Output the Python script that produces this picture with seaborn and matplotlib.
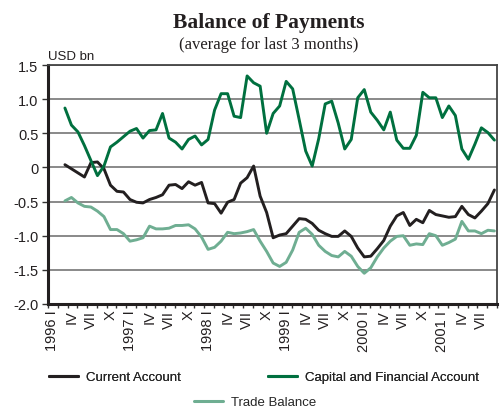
import matplotlib
matplotlib.use("Agg")
import matplotlib.pyplot as plt
from matplotlib import font_manager
from matplotlib.lines import Line2D
from matplotlib.ticker import FixedLocator, FuncFormatter
import numpy as np
import pandas as pd
import seaborn as sns

# months counted from January 1996 (0); data runs March 1996 .. September 2001
months = list(range(2, 69))

current_account = [
    0.04, -0.02, -0.08, -0.14, 0.07, 0.08, -0.02, -0.26, -0.35, -0.36,
    -0.47, -0.51, -0.52, -0.47, -0.44, -0.40, -0.26, -0.25, -0.31, -0.21,
    -0.26, -0.22, -0.52, -0.53, -0.67, -0.51, -0.47, -0.23, -0.15, 0.02,
    -0.42, -0.66, -1.03, -0.99, -0.97, -0.86, -0.75, -0.76, -0.82, -0.92,
    -0.97, -1.01, -1.01, -0.93, -1.01, -1.18, -1.31, -1.30, -1.19, -1.07,
    -0.86, -0.71, -0.66, -0.85, -0.76, -0.81, -0.63, -0.69, -0.71, -0.73,
    -0.72, -0.57, -0.69, -0.74, -0.64, -0.53, -0.33,
]

capital_account = [
    0.87, 0.62, 0.52, 0.32, 0.10, -0.12, 0.02, 0.30, 0.37, 0.45,
    0.53, 0.57, 0.43, 0.54, 0.55, 0.79, 0.43, 0.37, 0.27, 0.41,
    0.46, 0.33, 0.41, 0.84, 1.08, 1.08, 0.75, 0.73, 1.34, 1.24,
    1.19, 0.50, 0.79, 0.90, 1.26, 1.15, 0.70, 0.24, 0.02, 0.42,
    0.93, 0.97, 0.65, 0.27, 0.41, 1.02, 1.14, 0.81, 0.69, 0.55,
    0.81, 0.40, 0.28, 0.28, 0.47, 1.10, 1.02, 1.02, 0.73, 0.90,
    0.76, 0.27, 0.12, 0.34, 0.58, 0.51, 0.40,
]

trade_balance = [
    -0.49, -0.44, -0.52, -0.57, -0.58, -0.64, -0.72, -0.91, -0.91, -0.97,
    -1.08, -1.06, -1.03, -0.86, -0.90, -0.90, -0.89, -0.85, -0.85, -0.84,
    -0.90, -1.02, -1.20, -1.17, -1.08, -0.95, -0.97, -0.96, -0.94, -0.91,
    -1.08, -1.23, -1.40, -1.45, -1.39, -1.21, -0.95, -0.89, -0.98, -1.14,
    -1.23, -1.29, -1.31, -1.23, -1.30, -1.45, -1.55, -1.47, -1.31, -1.18,
    -1.08, -1.01, -1.00, -1.14, -1.12, -1.13, -0.97, -1.00, -1.14, -1.10,
    -1.05, -0.79, -0.93, -0.93, -0.97, -0.92, -0.93,
]

series_names = ["Current Account", "Capital and Financial Account", "Trade Balance"]
series_colors = ["#231f20", "#00703f", "#6fae92"]

quarter_labels = []
for year in range(1996, 2002):
    quarter_labels += [f"{year} I", "IV", "VII", "X"]
quarter_labels = quarter_labels[:23]
quarter_pos = list(range(0, 69, 3))

y_ticks = [1.5, 1.0, 0.5, 0, -0.5, -1.0, -1.5, -2.0]

df = pd.DataFrame({
    "month": months * 3,
    "value": current_account + capital_account + trade_balance,
    "series": [series_names[0]] * len(months)
    + [series_names[1]] * len(months)
    + [series_names[2]] * len(months),
})

sns.set_theme(style="white")
names = {f.name for f in font_manager.fontManager.ttflist}
if "Liberation Sans Narrow" in names:
    sans, fs, tfs = "Liberation Sans Narrow", 11.5, 12
else:
    sans, fs, tfs = "Liberation Sans", 9.5, 10.5
plt.rcParams["font.family"] = [sans, "DejaVu Sans"]

fig = plt.figure(figsize=(5.04, 4.14), dpi=100)
ax = fig.add_axes([48 / 504, 1 - 305 / 414, 449 / 504, 239 / 414])

sns.lineplot(
    data=df, x="month", y="value", hue="series",
    palette=dict(zip(series_names, series_colors)),
    linewidth=2.1, ax=ax, legend=False,
)

ax.set_xlim(-0.6, 68.4)
ax.set_ylim(-2.0, 1.5)
ax.set_xlabel("")
ax.set_ylabel("")

# gridlines
for v in y_ticks:
    ax.axhline(v, color="#808080", linewidth=1.3, zorder=0)

ax.set_yticks(y_ticks)
ax.yaxis.set_major_formatter(FuncFormatter(lambda v, p: "0" if v == 0 else f"{v:.1f}"))
ax.tick_params(axis="y", length=4, width=1.0, color="#333333", pad=3,
               labelsize=tfs, labelcolor="#231f20", left=True)

ax.set_xticks(quarter_pos)
ax.set_xticklabels(quarter_labels, rotation=90, va="top", ha="center")
ax.xaxis.set_minor_locator(FixedLocator(np.arange(-0.6, 68.5, 1.5)))
ax.tick_params(axis="x", which="major", length=0, pad=4, labelsize=tfs, labelcolor="#231f20")
ax.tick_params(axis="x", which="minor", length=3, width=1.0, color="#333333", bottom=True)

for side in ["left", "bottom"]:
    ax.spines[side].set_color("#231f20")
    ax.spines[side].set_linewidth(2.2)
for side in ["top", "right"]:
    ax.spines[side].set_color("#444444")
    ax.spines[side].set_linewidth(1.3)

ax.text(0.0, 1.012, "USD bn", transform=ax.transAxes, ha="left", va="bottom",
        fontsize=fs, color="#231f20")

fig.text(0.534, 1 - 23 / 414, "Balance of Payments", ha="center", va="center",
         family="Liberation Serif", fontweight="bold", fontsize=15.5, color="#231f20")
fig.text(0.534, 1 - 45 / 414, "(average for last 3 months)", ha="center", va="center",
         family="Liberation Serif", fontsize=12, color="#231f20")

handles = [Line2D([], [], color=c, linewidth=2.2) for c in series_colors]
leg1 = fig.legend(handles[:2], series_names[:2], ncol=2, loc="center left",
                  bbox_to_anchor=(44 / 504, 1 - 378 / 414), frameon=False,
                  fontsize=fs, handlelength=2.2, handletextpad=0.6,
                  columnspacing=6.6, borderaxespad=0)
fig.legend(handles[2:], series_names[2:], loc="center left",
           bbox_to_anchor=(189 / 504, 1 - 403 / 414), frameon=False,
           fontsize=fs, handlelength=2.2, handletextpad=0.6, borderaxespad=0)
fig.add_artist(leg1)

fig.savefig("out.png", dpi=100)
